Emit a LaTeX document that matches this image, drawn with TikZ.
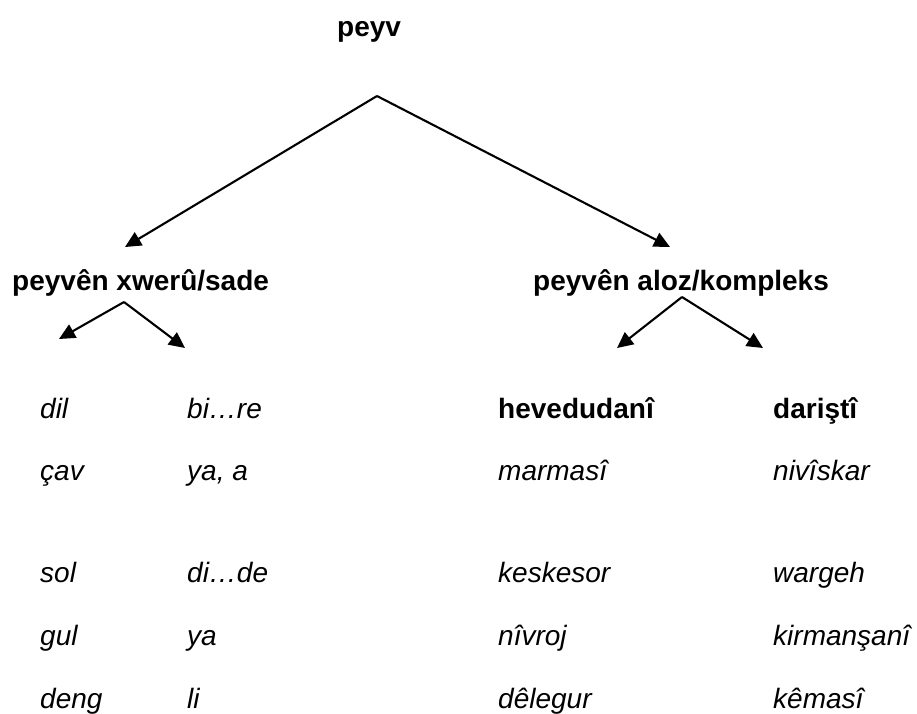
\documentclass[tikz,border=0pt]{standalone}
\usepackage{fontspec}
\setmainfont{Liberation Sans}
\usetikzlibrary{arrows.meta}

\tikzset{
  word/.style={inner sep=0pt, anchor=base west, font=\fontsize{28}{34}\selectfont\itshape},
  head/.style={inner sep=0pt, anchor=base west, font=\fontsize{28}{34}\selectfont\bfseries},
  branch/.style={line width=2.1pt, -{Triangle[length=16pt,width=15pt]}},
}

\begin{document}
\begin{tikzpicture}[x=1pt,y=-1pt]
  \useasboundingbox (0,0) rectangle (917,713);

  % root and the two word classes
  \node[head] (root) at (337,36) {peyv};
  \node[head] (simple) at (12,290) {peyvên xwerû/sade};
  \node[head] (complex) at (533,290) {peyvên aloz/kompleks};

  % branching points and arrow ends
  \coordinate (rootfork) at (377,96);
  \coordinate (rootL) at (125,247);
  \coordinate (rootR) at (670,247);
  \coordinate (simplefork) at (124,302);
  \coordinate (simpleL) at (59,339);
  \coordinate (simpleR) at (185,348);
  \coordinate (complexfork) at (682,297);
  \coordinate (complexL) at (617,348);
  \coordinate (complexR) at (763,348);

  \draw[branch] (rootfork) -- (rootL);
  \draw[branch] (rootfork) -- (rootR);
  \draw[branch] (simplefork) -- (simpleL);
  \draw[branch] (simplefork) -- (simpleR);
  \draw[branch] (complexfork) -- (complexL);
  \draw[branch] (complexfork) -- (complexR);

  % column headings for compound words
  \node[head] (hev) at (498,418) {hevedudanî};
  \node[head] (dar) at (773,418) {dariştî};

  % simple words: roots and affixes
  \node[word] (a1) at (40,418) {dil};
  \node[word] (b1) at (187,418) {bi…re};
  \node[word] (a2) at (40,480) {çav};
  \node[word] (b2) at (187,480) {ya, a};
  \node[word] (a3) at (40,582) {sol};
  \node[word] (b3) at (187,582) {di…de};
  \node[word] (a4) at (40,645) {gul};
  \node[word] (b4) at (187,645) {ya};
  \node[word] (a5) at (40,708) {deng};
  \node[word] (b5) at (187,708) {li};

  % complex words
  \node[word] (c2) at (498,480) {marmasî};
  \node[word] (d2) at (773,480) {nivîskar};
  \node[word] (c3) at (498,582) {keskesor};
  \node[word] (d3) at (773,582) {wargeh};
  \node[word] (c4) at (498,645) {nîvroj};
  \node[word] (d4) at (773,645) {kirmanşanî};
  \node[word] (c5) at (498,708) {dêlegur};
  \node[word] (d5) at (773,708) {kêmasî};
\end{tikzpicture}
\end{document}
